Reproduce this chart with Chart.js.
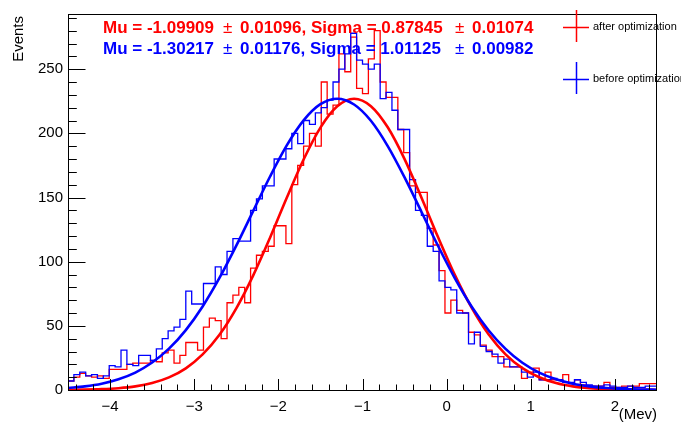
<!DOCTYPE html>
<html><head><meta charset="utf-8">
<script src="https://cdn.jsdelivr.net/npm/chart.js@4"></script>
<style>html,body{margin:0;padding:0;background:#fff}canvas{display:block}</style>
</head><body>
<canvas id="c" width="681" height="423"></canvas>
<script>
// ---- data ----
const binLow = -4.5;
const binWidth = 0.07;
const afterCounts = [
  5, 7, 10, 13, 11, 10, 11, 9, 16, 16,
  16, 20, 21, 21, 21, 23, 22, 29, 31, 21,
  27, 37, 37, 31, 49, 56, 54, 40, 68, 74,
  80, 68, 95, 105, 108, 112, 128, 128, 114, 160,
  175, 190, 200, 190, 240, 215, 222, 262, 248, 275,
  235, 231, 258, 280, 240, 228, 228, 203, 185, 159,
  154, 154, 126, 113, 93, 60, 70, 62, 60, 45,
  43, 35, 31, 26, 26, 18, 18, 18, 9, 14,
  17, 8, 14, 8, 8, 12, 5, 8, 4, 3,
  3, 3, 6, 2, 2, 3, 3, 3, 5, 5
];
const beforeCounts = [
  8, 7, 12, 14, 11, 12, 9, 11, 19, 18,
  31, 20, 19, 27, 27, 23, 32, 40, 46, 49,
  55, 77, 67, 67, 83, 83, 96, 90, 108, 118,
  116, 116, 140, 149, 159, 159, 180, 180, 188, 200,
  192, 210, 207, 216, 220, 226, 240, 250, 262, 278,
  257, 254, 250, 254, 227, 232, 218, 203, 203, 164,
  140, 136, 112, 108, 85, 80, 78, 60, 60, 36,
  45, 34, 30, 28, 21, 24, 18, 18, 14, 10,
  14, 8, 8, 9, 8, 6, 6, 8, 6, 4,
  3, 3, 4, 3, 2, 2, 3, 2, 2, 3
];
const fitX = [-4.5,-4.3,-4.1,-3.9,-3.7,-3.5,-3.3,-3.1,-2.9,-2.7,-2.5,-2.3,-2.1,-1.9,-1.7,-1.5,-1.3,-1.1,
  -0.9,-0.7,-0.5,-0.3,-0.1,0.1,0.3,0.5,0.7,0.9,1.1,1.3,1.5,1.7,1.9,2.1,2.3,2.5];
const afterFit = [0.13,0.29,0.66,1.4,2.8,5.4,9.8,16.9,27.7,43.0,63.6,89.1,118.5,149.8,179.6,204.5,221.1,227.0,
  221.2,204.7,179.9,150.0,118.8,89.3,63.8,43.2,27.8,17.0,9.9,5.4,2.8,1.4,0.66,0.30,0.13,0.05];
const beforeFit = [1.5,2.8,4.9,8.4,13.6,21.4,32.2,46.7,65.1,87.3,112.5,139.4,166.2,190.6,210.1,222.7,227.0,222.5,
  209.8,190.1,165.7,138.9,112.0,86.8,64.7,46.4,32.0,21.2,13.5,8.3,4.9,2.8,1.5,0.8,0.4,0.2];
const xTickLabels = [-4, -3, -2, -1, 0, 1, 2];
const yTickLabels = [0, 50, 100, 150, 200, 250];
const xRange = [-4.5, 2.5];
const yRange = [0, 293];
const statsAfter = ["Mu = -1.09909", "0.01096, Sigma = 0.87845", "0.01074"];
const statsBefore = ["Mu = -1.30217", "0.01176, Sigma = 1.01125", "0.00982"];
const legendLabels = ["after optimization", "before optimization"];
const xTitle = "(Mev)";
const yTitle = "Events";

const RED = '#ff0000', BLUE = '#0000ff';
const FONT = '"Liberation Sans", Arial, Helvetica, sans-serif';

function histPoints(counts) {
  const pts = counts.map((c, i) => ({x: binLow + i * binWidth, y: c}));
  pts.push({x: binLow + counts.length * binWidth, y: counts[counts.length - 1]});
  return pts;
}
function curvePoints(xs, ys) { return xs.map((x, i) => ({x, y: ys[i]})); }

const decor = {
  id: 'decor',
  afterDraw(chart) {
    const ctx = chart.ctx, ca = chart.chartArea;
    const xs = chart.scales.x, ys = chart.scales.y;
    ctx.save();
    // frame
    ctx.strokeStyle = '#000'; ctx.lineWidth = 1;
    ctx.strokeRect(Math.round(ca.left) + 0.5, Math.round(ca.top) + 0.5,
                   Math.round(ca.right - ca.left) - 1, Math.round(ca.bottom - ca.top));
    // x ticks (inside)
    ctx.beginPath();
    for (let k = -25; k <= 15; k++) {
      const v = k * 0.2;
      if (v < xRange[0] - 1e-9 || v > xRange[1] + 1e-9) continue;
      const px = Math.round(xs.getPixelForValue(v)) + 0.5;
      const len = (k % 5 === 0) ? 11 : 5.5;
      ctx.moveTo(px, ca.bottom); ctx.lineTo(px, ca.bottom - len);
    }
    // y ticks (inside)
    for (let k = 0; k <= 29; k++) {
      const v = k * 10;
      if (v > yRange[1]) continue;
      const py = Math.round(ys.getPixelForValue(v)) + 0.5;
      const len = (k % 5 === 0) ? 17.5 : 8.8;
      ctx.moveTo(ca.left, py); ctx.lineTo(ca.left + len, py);
    }
    ctx.stroke();

    // axis titles
    ctx.fillStyle = '#000';
    ctx.font = '15px ' + FONT;
    ctx.textAlign = 'right'; ctx.textBaseline = 'alphabetic';
    ctx.fillText(xTitle, ca.right, 419);
    ctx.save();
    ctx.translate(23, ca.top + 2);
    ctx.rotate(-Math.PI / 2);
    ctx.textAlign = 'right';
    ctx.fillText(yTitle, 0, 0);
    ctx.restore();

    // fit statistics
    const rows = [[statsAfter, RED, 33], [statsBefore, BLUE, 54]];
    for (const [parts, col, yb] of rows) {
      ctx.fillStyle = col; ctx.textAlign = 'left';
      ctx.font = 'bold 17px ' + FONT;
      ctx.fillText(parts[0], 103, yb);
      ctx.fillText(parts[1], 240, yb);
      ctx.fillText(parts[2], 472, yb);
      ctx.font = '17px ' + FONT;
      ctx.fillText('\u00B1', 223, yb);
      ctx.fillText('\u00B1', 455, yb);
    }

    // legend
    const leg = [[legendLabels[0], RED, 27], [legendLabels[1], BLUE, 79]];
    for (const [txt, col, cy] of leg) {
      ctx.strokeStyle = col; ctx.lineWidth = 1.5;
      ctx.beginPath();
      ctx.moveTo(563, cy + 0.5); ctx.lineTo(589, cy + 0.5);
      ctx.moveTo(576.5, cy - 17); ctx.lineTo(576.5, cy + 15);
      ctx.stroke();
      ctx.fillStyle = '#000';
      ctx.font = '11px ' + FONT;
      ctx.textAlign = 'left'; ctx.textBaseline = 'middle';
      ctx.fillText(txt, 593, cy);
    }
    ctx.restore();
  }
};

new Chart(document.getElementById('c'), {
  type: 'line',
  data: {
    datasets: [
      {label: 'after hist', data: histPoints(afterCounts), borderColor: RED, borderWidth: 1.3,
       stepped: 'after', pointRadius: 0, fill: false, order: 4},
      {label: 'before hist', data: histPoints(beforeCounts), borderColor: BLUE, borderWidth: 1.3,
       stepped: 'after', pointRadius: 0, fill: false, order: 3},
      {label: 'after fit', data: curvePoints(fitX, afterFit), borderColor: RED, borderWidth: 2.6,
       cubicInterpolationMode: 'monotone', pointRadius: 0, fill: false, order: 2},
      {label: 'before fit', data: curvePoints(fitX, beforeFit), borderColor: BLUE, borderWidth: 2.6,
       cubicInterpolationMode: 'monotone', pointRadius: 0, fill: false, order: 1}
    ]
  },
  options: {
    responsive: false, animation: false, devicePixelRatio: 1,
    layout: {padding: {top: 9, right: 24, bottom: 0, left: 0}},
    plugins: {legend: {display: false}, tooltip: {enabled: false}},
    scales: {
      x: {
        type: 'linear', min: xRange[0], max: xRange[1],
        grid: {display: false, drawTicks: false}, border: {display: false},
        afterBuildTicks: s => { s.ticks = xTickLabels.map(v => ({value: v})); },
        afterFit: s => { s.height = 33; },
        ticks: {autoSkip: false, maxRotation: 0, padding: 8, color: '#000',
                font: {size: 15, family: FONT},
                callback: v => (v < 0 ? '\u2212' + Math.abs(v) : String(v))}
      },
      y: {
        type: 'linear', min: yRange[0], max: yRange[1],
        grid: {display: false, drawTicks: false}, border: {display: false},
        afterBuildTicks: s => { s.ticks = yTickLabels.map(v => ({value: v})); },
        afterFit: s => { s.width = 68; },
        ticks: {autoSkip: false, padding: 5, color: '#000', font: {size: 15, family: FONT}}
      }
    }
  },
  plugins: [decor]
});
</script>
</body></html>
